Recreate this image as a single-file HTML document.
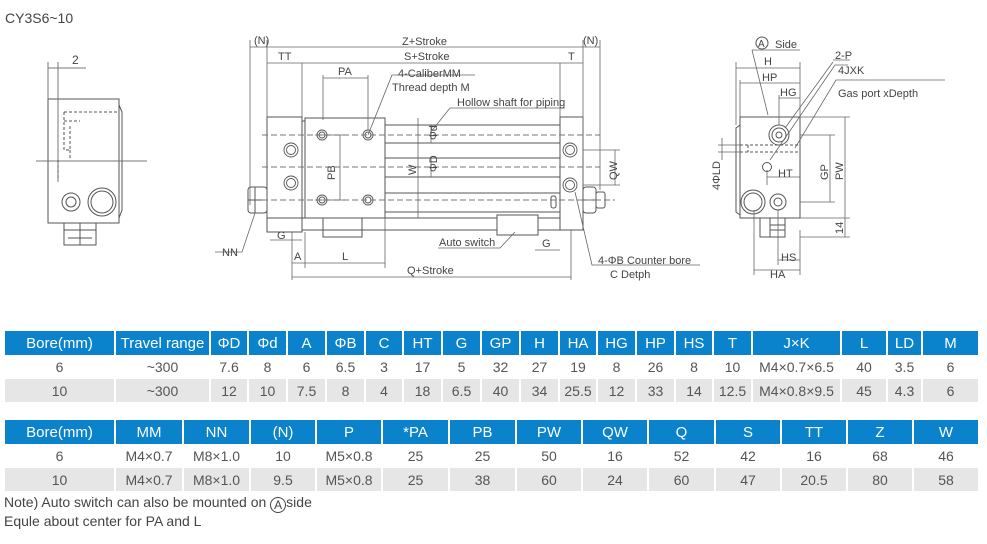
<!DOCTYPE html>
<html><head><meta charset="utf-8">
<style>
*{margin:0;padding:0;box-sizing:border-box}
body{width:987px;height:544px;background:#fff;position:relative;overflow:hidden;font-family:"Liberation Sans",Arial,sans-serif;color:#555}
table{position:absolute;left:5px;border-collapse:collapse;table-layout:fixed;font-size:14px}
td{text-align:center;padding:0;border-right:2px solid #fff;white-space:nowrap;overflow:hidden}
tr.h td{background:#0a82cc;color:#fff;font-size:15px;height:24px}
tr.r1 td{height:24px;background:#fff}
tr.r2 td{height:23px;background:#e6e6e6}
.note{position:absolute;left:4px;font-size:14px;color:#444}
svg{position:absolute;left:0;top:0}
svg text{font-family:"Liberation Sans",Arial,sans-serif;fill:#444}
</style></head><body>
<svg width="987" height="300" viewBox="0 0 987 300">
<g stroke="#555" fill="none" stroke-width="1">
<text x="5" y="23" font-size="14" stroke="none" fill="#555">CY3S6~10</text>
<!-- left view -->
<rect x="48" y="99" width="71" height="124"/>
<path d="M119 105 L122 112 L122 210 L119 218"/>
<rect x="64" y="223" width="32" height="22"/>
<path d="M64 230 H96 M68 238 H92 M80 223 V245"/>
<circle cx="71" cy="202" r="9"/><circle cx="71" cy="202" r="5"/>
<circle cx="102" cy="202" r="14"/><circle cx="102" cy="202" r="11"/>
<path d="M36 161 H147" stroke="#777"/>
<path d="M48 62 V99 M58 62 V182" stroke="#777"/>
<path d="M48 68 H86" stroke="#777"/>
<text x="72" y="64" font-size="12" stroke="none">2</text>
<path d="M64 112 H117 M64 112 V150 H70 V125 M64 121 H80 M70 150 V160 M58 160 V180" stroke-dasharray="3,2"/>
<!-- main view -->
<rect x="267" y="117" width="35" height="115"/>
<rect x="305" y="118" width="80" height="100"/>
<rect x="560" y="117" width="23" height="113"/>
<path d="M385 125 H560 M385 143 H560 M385 158 H560 M385 177 H560 M385 193 H560 M385 212 H560"/>
<path d="M267 218 H560 M302 230 H560"/>
<rect x="323" y="218" width="39" height="19"/>
<path d="M497 215 H538 V235 H497 Z" fill="#fff"/>
<path d="M302 121 H305 M302 232 V232"/>
<rect x="248" y="187" width="19" height="26" rx="3"/>
<path d="M248 200 H267 M255 187 V213"/>
<rect x="583" y="187" width="13" height="26" rx="3"/>
<rect x="596" y="192" width="9" height="16" rx="2"/>
<path d="M583 200 H596"/>
<rect x="551" y="196" width="5" height="12" rx="2"/>
<g stroke-width="0.9">
<circle cx="322" cy="135" r="5"/><circle cx="322" cy="135" r="3"/>
<circle cx="368" cy="135" r="5"/><circle cx="368" cy="135" r="3"/>
<circle cx="322" cy="200" r="5"/><circle cx="322" cy="200" r="3"/>
<circle cx="368" cy="200" r="5"/><circle cx="368" cy="200" r="3"/>
<circle cx="291" cy="150" r="7"/><circle cx="291" cy="150" r="4.5"/>
<circle cx="291" cy="183" r="7"/><circle cx="291" cy="183" r="4.5"/>
<circle cx="570" cy="150" r="7"/><circle cx="570" cy="150" r="4.5"/>
<circle cx="570" cy="185" r="7"/><circle cx="570" cy="185" r="4.5"/>
</g>
<path d="M262 135 H600 M262 167 H600 M262 200 H615" stroke-dasharray="6,3" stroke="#777"/>
<!-- dims main -->
<g stroke="#666" stroke-width="0.8">
<path d="M250 40 V205 M267 40 V117 M583 40 V187 M600 40 V190"/>
<path d="M250 47 H600 M267 63 H583 M302 63 V117 M560 63 V117"/>
<path d="M323 78 H368 M323 75 V120 M368 75 V130"/>
<path d="M315 135 H345 M315 200 H345 M340 135 V200"/>
<path d="M418 118 V218 M431 125 V143 M431 158 V177"/>
<path d="M583 150 H620 M583 185 H620 M615 150 V185"/>
<path d="M292 232 V280 M305 232 V268 M385 218 V268 M571 230 V280"/>
<path d="M292 263 H385 M292 277 H571 M270 240 H302 M535 250 H560"/>
<path d="M368 135 L392 75 H475 M430 133 L450 108 H565 M255 213 L242 252 H215 M515 232 L500 248 H438 M575 192 L592 265 H700"/>
</g>
<g font-size="11" stroke="none">
<text x="254" y="44">(N)</text><text x="583" y="44">(N)</text>
<text x="402" y="45">Z+Stroke</text><text x="404" y="60">S+Stroke</text>
<text x="278" y="60">TT</text><text x="568" y="60">T</text>
<text x="338" y="75">PA</text>
<text x="398" y="77">4-CaliberMM</text><text x="392" y="91">Thread depth M</text>
<text x="457" y="106">Hollow shaft for piping</text>
<text x="439" y="246">Auto switch</text>
<text x="277" y="239">G</text><text x="542" y="247">G</text>
<text x="294" y="260">A</text><text x="342" y="260">L</text>
<text x="407" y="274">Q+Stroke</text>
<text x="222" y="256">NN</text>
<text x="598" y="264">4-ΦB Counter bore</text><text x="610" y="278">C Detph</text>
<text transform="translate(335 180) rotate(-90)">PB</text>
<text transform="translate(416 175) rotate(-90)">W</text>
<text transform="translate(437 140) rotate(-90)">Φd</text>
<text transform="translate(437 172) rotate(-90)">ΦD</text>
<text transform="translate(617 180) rotate(-90)">QW</text>
</g>
<!-- side view -->
<rect x="740" y="117" width="60" height="101"/>
<path d="M740 125 L736 128 V212 L740 215"/>
<rect x="760" y="218" width="25" height="19"/>
<path d="M770 225 H785 M770 230 H785 M770 218 V237"/>
<circle cx="753" cy="202" r="12"/><circle cx="753" cy="202" r="9"/>
<circle cx="778" cy="202" r="8"/><circle cx="778" cy="202" r="4"/>
<circle cx="779" cy="135" r="10"/><circle cx="779" cy="135" r="7"/><circle cx="779" cy="135" r="3"/>
<circle cx="767" cy="167" r="4.5"/>
<path d="M740 145 H800 M740 152 H800 M740 145 V152 M748 145 V152" stroke-dasharray="3,2"/>
<g stroke="#666" stroke-width="0.8">
<path d="M736 62 V125 M740 80 V117 M800 62 V117 M779 95 V125"/>
<path d="M736 68 H800 M740 83 H800 M779 98 H800"/>
<path d="M800 135 H835 M800 202 H835 M830 135 V202 M800 117 H850 M800 218 H850 M845 117 V237 M800 237 H850"/>
<path d="M767 177 H800 M767 170 V185"/>
<path d="M722 138 V160 M718 145 H740 M718 152 H740"/>
<path d="M754 210 V275 M778 210 V265 M800 230 V275 M754 270 H800 M778 260 H800"/>
<path d="M752 50 L768 115 M785 128 L833 62 M770 160 L835 65 H848 M795 148 L836 80 H945"/>
<path d="M752 50 H800 M833 60 H850"/>
</g>
<g font-size="11" stroke="none">
<circle cx="762" cy="43" r="6" stroke="#555" fill="none"/>
<text x="758" y="47" font-size="10">A</text>
<text x="775" y="48">Side</text>
<text x="764" y="65">H</text><text x="762" y="81">HP</text><text x="780" y="96">HG</text>
<text x="835" y="59">2-P</text><text x="838" y="74">4JXK</text><text x="838" y="97">Gas port xDepth</text>
<text x="778" y="177">HT</text><text x="781" y="261">HS</text><text x="770" y="278">HA</text>
<text transform="translate(828 180) rotate(-90)">GP</text>
<text transform="translate(843 180) rotate(-90)">PW</text>
<text transform="translate(843 234) rotate(-90)">14</text>
<text transform="translate(720 190) rotate(-90)">4ΦLD</text>
</g>
</g>
</svg>

<table style="top:331px;width:974px">
<colgroup><col style="width:110px"><col style="width:95px"><col style="width:38px"><col style="width:39px"><col style="width:39px"><col style="width:39px"><col style="width:38px"><col style="width:39px"><col style="width:39px"><col style="width:39px"><col style="width:39px"><col style="width:38px"><col style="width:39px"><col style="width:39px"><col style="width:38px"><col style="width:39px"><col style="width:89px"><col style="width:46px"><col style="width:35px"><col style="width:57px"></colgroup>
<tr class="h"><td>Bore(mm)</td><td>Travel range</td><td>ΦD</td><td>Φd</td><td>A</td><td>ΦB</td><td>C</td><td>HT</td><td>G</td><td>GP</td><td>H</td><td>HA</td><td>HG</td><td>HP</td><td>HS</td><td>T</td><td>J×K</td><td>L</td><td>LD</td><td>M</td></tr>
<tr class="r1"><td>6</td><td>~300</td><td>7.6</td><td>8</td><td>6</td><td>6.5</td><td>3</td><td>17</td><td>5</td><td>32</td><td>27</td><td>19</td><td>8</td><td>26</td><td>8</td><td>10</td><td>M4×0.7×6.5</td><td>40</td><td>3.5</td><td>6</td></tr>
<tr class="r2"><td>10</td><td>~300</td><td>12</td><td>10</td><td>7.5</td><td>8</td><td>4</td><td>18</td><td>6.5</td><td>40</td><td>34</td><td>25.5</td><td>12</td><td>33</td><td>14</td><td>12.5</td><td>M4×0.8×9.5</td><td>45</td><td>4.3</td><td>6</td></tr>
</table>

<table style="top:420px;width:974px">
<colgroup><col style="width:110px"><col style="width:68px"><col style="width:67px"><col style="width:66px"><col style="width:66px"><col style="width:67px"><col style="width:67px"><col style="width:66px"><col style="width:66px"><col style="width:67px"><col style="width:66px"><col style="width:66px"><col style="width:66px"><col style="width:66px"></colgroup>
<tr class="h"><td>Bore(mm)</td><td>MM</td><td>NN</td><td>(N)</td><td>P</td><td>*PA</td><td>PB</td><td>PW</td><td>QW</td><td>Q</td><td>S</td><td>TT</td><td>Z</td><td>W</td></tr>
<tr class="r1"><td>6</td><td>M4×0.7</td><td>M8×1.0</td><td>10</td><td>M5×0.8</td><td>25</td><td>25</td><td>50</td><td>16</td><td>52</td><td>42</td><td>16</td><td>68</td><td>46</td></tr>
<tr class="r2"><td>10</td><td>M4×0.7</td><td>M8×1.0</td><td>9.5</td><td>M5×0.8</td><td>25</td><td>38</td><td>60</td><td>24</td><td>60</td><td>47</td><td>20.5</td><td>80</td><td>58</td></tr>
</table>

<div class="note" style="top:494px">Note) Auto switch can also be mounted on <span style="display:inline-block;width:16px;height:16px;border:1px solid #444;border-radius:50%;font-size:12px;line-height:14px;text-align:center;vertical-align:-2px">A</span>side</div>
<div class="note" style="top:513px">Equle about center for PA and L</div>
</body></html>
